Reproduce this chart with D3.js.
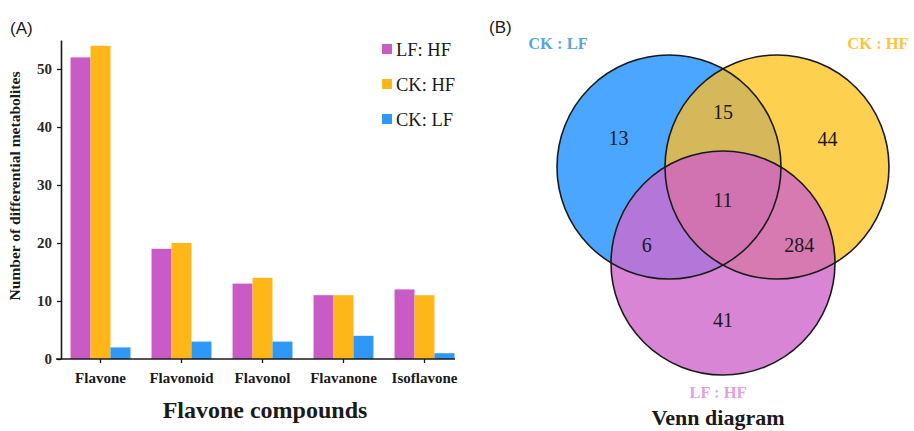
<!DOCTYPE html>
<html><head><meta charset="utf-8">
<script src="https://cdn.jsdelivr.net/npm/d3@7"></script>
<style>body{margin:0;background:#fff}svg{display:block}</style>
</head><body>
<svg id="c" width="914" height="431"></svg>
<script>
// ---- Data ----
const categories = ["Flavone", "Flavonoid", "Flavonol", "Flavanone", "Isoflavone"];
const seriesNames = ["LF: HF", "CK: HF", "CK: LF"];
const lfHf = [52, 19, 13, 11, 12];
const ckHf = [54, 20, 14, 11, 11];
const ckLf = [2, 3, 3, 4, 1];
const yTicks = [0, 10, 20, 30, 40, 50];
const barColors = ["#c95bc6", "#ffb619", "#2f97f5"];

const vennSets = ["CK : LF", "CK : HF", "LF : HF"];
const vennLabelColors = ["#55a6e6", "#ffc23a", "#e69ee0"];
// region membership [CK:LF, CK:HF, LF:HF] and counts
const vennRegions = [
  {sets: [1,0,0], count: 13, color: "#4ba6ff"},
  {sets: [0,1,0], count: 44, color: "#fdd04f"},
  {sets: [0,0,1], count: 41, color: "#d885d5"},
  {sets: [1,1,0], count: 15, color: "#d4b85a"},
  {sets: [1,0,1], count: 6,  color: "#b376d9"},
  {sets: [0,1,1], count: 284, color: "#d77ab2"},
  {sets: [1,1,1], count: 11, color: "#d073b0"}
];

const svg = d3.select("#c");
const serif = "'Liberation Serif','Times New Roman',serif";
const ink = "#1a1a1a";

// ---- Panel A ----
svg.append("text").attr("x", 10).attr("y", 34).attr("font-family", "'Liberation Sans',Arial,sans-serif")
  .attr("font-size", 17).attr("fill", ink).text("(A)");

const y = d3.scaleLinear().domain([0, 55]).range([359, 40]);
const x0 = d3.scaleBand().domain(categories).range([60, 465]).paddingInner(0.26).paddingOuter(0.13);
const x1 = d3.scaleBand().domain(seriesNames).range([0, x0.bandwidth()]);
const values = [lfHf, ckHf, ckLf];

const gBars = svg.append("g");
categories.forEach((c, i) => {
  seriesNames.forEach((s, j) => {
    gBars.append("rect")
      .attr("x", x0(c) + x1(s)).attr("width", x1.bandwidth())
      .attr("y", y(values[j][i])).attr("height", y(0) - y(values[j][i]))
      .attr("fill", barColors[j]);
  });
});

const yAxis = svg.append("g").attr("transform", "translate(61,0)")
  .call(d3.axisLeft(y).tickValues(yTicks).tickSize(4).tickSizeOuter(0));
yAxis.attr("font-family", serif);
yAxis.select(".domain").attr("stroke", ink).attr("stroke-width", 1.6);
yAxis.selectAll(".tick line").attr("stroke", ink).attr("stroke-width", 1.3);
yAxis.selectAll(".tick text").attr("font-family", serif).attr("font-weight", "bold")
  .attr("font-size", 15).attr("fill", "#2a2a2a").attr("x", -9);

const xAxis = svg.append("g").attr("transform", "translate(0,359)")
  .call(d3.axisBottom(x0).tickSize(4).tickSizeOuter(0));
xAxis.attr("font-family", serif);
xAxis.select(".domain").remove();
xAxis.append("line").attr("x1", 56).attr("x2", 455).attr("stroke", ink).attr("stroke-width", 1.6);
xAxis.selectAll(".tick line").attr("stroke", ink).attr("stroke-width", 1.3);
xAxis.selectAll(".tick text").attr("font-family", serif).attr("font-weight", "bold")
  .attr("font-size", 15).attr("fill", ink).attr("y", 13);

svg.append("text").attr("x", 265).attr("y", 418).attr("text-anchor", "middle")
  .attr("font-family", serif).attr("font-weight", "bold").attr("font-size", 24).attr("fill", ink)
  .text("Flavone compounds");

svg.append("text").attr("transform", "translate(20,186) rotate(-90)").attr("text-anchor", "middle")
  .attr("font-family", serif).attr("font-weight", "bold").attr("font-size", 15.5).attr("fill", ink)
  .text("Number of differential metabolites");

const leg = svg.append("g");
seriesNames.forEach((s, j) => {
  const cy = 49 + j * 35;
  leg.append("rect").attr("x", 382).attr("y", cy - 5).attr("width", 10).attr("height", 10).attr("fill", barColors[j]);
  leg.append("text").attr("x", 396).attr("y", cy + 6.5).attr("font-family", serif)
    .attr("font-size", 18.5).attr("fill", ink).text(s);
});

// ---- Panel B (Venn) ----
svg.append("text").attr("x", 489).attr("y", 33).attr("font-family", "'Liberation Sans',Arial,sans-serif")
  .attr("font-size", 17).attr("fill", ink).text("(B)");

const R = 112;
const circles = [
  {cx: 669, cy: 167},
  {cx: 777, cy: 167},
  {cx: 723, cy: 263}
];
const defs = svg.append("defs");
circles.forEach((c, i) => {
  defs.append("clipPath").attr("id", "clip" + i)
    .append("circle").attr("cx", c.cx).attr("cy", c.cy).attr("r", R);
});

const gV = svg.append("g");
vennRegions.forEach(reg => {
  const idx = reg.sets.map((v, i) => v ? i : -1).filter(i => i >= 0);
  let g = gV;
  idx.slice(1).forEach(k => { g = g.append("g").attr("clip-path", `url(#clip${k})`); });
  const c = circles[idx[0]];
  g.append("circle").attr("cx", c.cx).attr("cy", c.cy).attr("r", R).attr("fill", reg.color);
});
circles.forEach(c => {
  gV.append("circle").attr("cx", c.cx).attr("cy", c.cy).attr("r", R)
    .attr("fill", "none").attr("stroke", ink).attr("stroke-width", 1.6);
});

// region label positions: centroid of sampled points inside each exclusive region
function inside(px, py, c) { return (px - c.cx) ** 2 + (py - c.cy) ** 2 <= R * R; }
vennRegions.forEach(reg => {
  let sx = 0, sy = 0, n = 0;
  for (let px = 540; px <= 900; px += 2) for (let py = 40; py <= 390; py += 2) {
    const m = circles.map(c => inside(px, py, c) ? 1 : 0);
    if (m.every((v, i) => v === reg.sets[i])) { sx += px; sy += py; n++; }
  }
  reg.lx = sx / n; reg.ly = sy / n;
});
const nudge = {"1,0,0": [-3, -2], "0,1,0": [3, -1], "0,0,1": [0, 4], "1,1,0": [0, -11], "1,0,1": [-10, 7], "0,1,1": [10, 7], "1,1,1": [0, 0]};
vennRegions.forEach(reg => {
  const d = nudge[reg.sets.join(",")];
  gV.append("text").attr("x", reg.lx + d[0]).attr("y", reg.ly + d[1]).attr("dy", "0.35em")
    .attr("text-anchor", "middle").attr("font-family", serif).attr("font-size", 20).attr("fill", ink)
    .text(reg.count);
});

svg.append("text").attr("x", 558).attr("y", 49).attr("text-anchor", "middle").attr("font-family", serif)
  .attr("font-weight", "bold").attr("font-size", 16.5).attr("fill", vennLabelColors[0]).text(vennSets[0]);
svg.append("text").attr("x", 878).attr("y", 49).attr("text-anchor", "middle").attr("font-family", serif)
  .attr("font-weight", "bold").attr("font-size", 16.5).attr("fill", vennLabelColors[1]).text(vennSets[1]);
svg.append("text").attr("x", 718).attr("y", 398).attr("text-anchor", "middle").attr("font-family", serif)
  .attr("font-weight", "bold").attr("font-size", 16.5).attr("fill", vennLabelColors[2]).text(vennSets[2]);
svg.append("text").attr("x", 718).attr("y", 425).attr("text-anchor", "middle").attr("font-family", serif)
  .attr("font-weight", "bold").attr("font-size", 22).attr("fill", ink).text("Venn diagram");
</script>
</body></html>
